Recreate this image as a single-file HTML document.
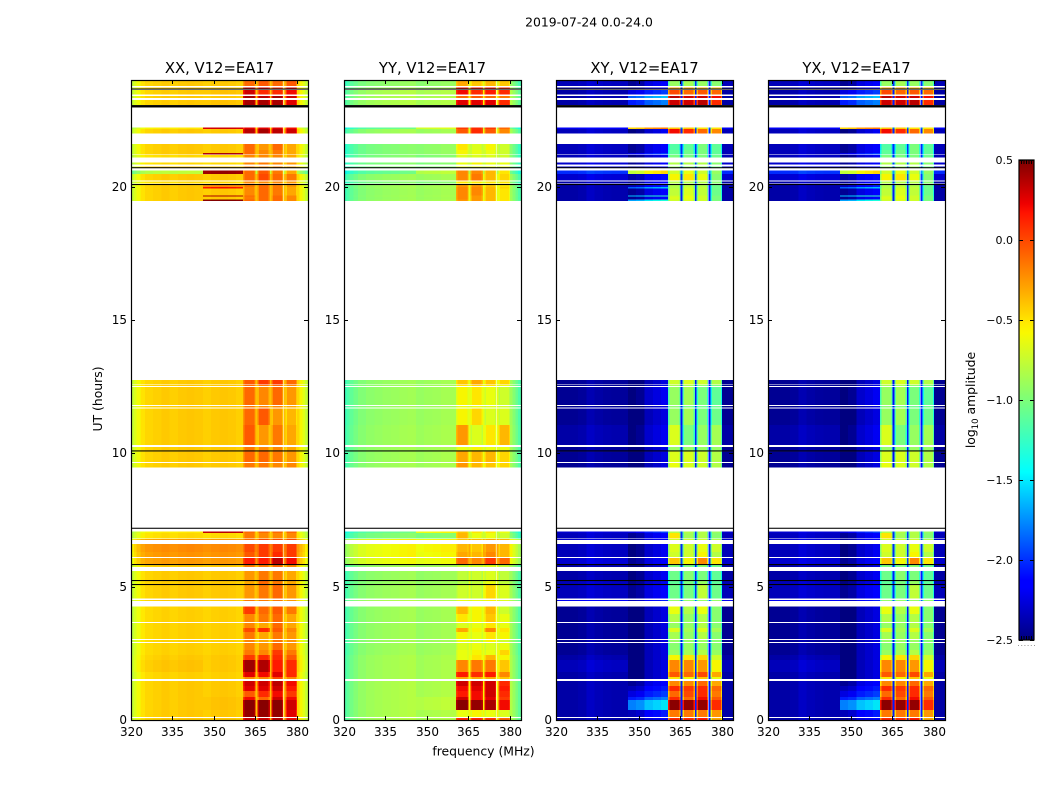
<!DOCTYPE html>
<html lang="en">
<head>
<meta charset="utf-8">
<title>2019-07-24 0.0-24.0</title>
<style>
html,body{margin:0;padding:0;background:#fff;}
svg{display:block;font-family:"DejaVu Sans","Liberation Sans",sans-serif;fill:#000;}
</style>
</head>
<body>
<svg id="figure" xmlns="http://www.w3.org/2000/svg" width="1050" height="800" viewBox="0 0 1050 800">
  <defs>
    <linearGradient id="jet-gradient" x1="0" y1="1" x2="0" y2="0">
      <stop offset="0" stop-color="#00007f"/>
      <stop offset="0.11" stop-color="#0000ff"/>
      <stop offset="0.125" stop-color="#0000ff"/>
      <stop offset="0.35" stop-color="#00ffff"/>
      <stop offset="0.5" stop-color="#7cff79"/>
      <stop offset="0.64" stop-color="#f9f900"/>
      <stop offset="0.66" stop-color="#ffea00"/>
      <stop offset="0.89" stop-color="#ff1300"/>
      <stop offset="0.91" stop-color="#ee0000"/>
      <stop offset="1" stop-color="#7f0000"/>
    </linearGradient>
  </defs>
  <text x="589" y="26.5" font-size="12.4" text-anchor="middle">2019-07-24 0.0-24.0</text>
  <text x="483.5" y="755.5" font-size="12.4" text-anchor="middle">frequency (MHz)</text>
  <text transform="translate(102,399) rotate(-90)" font-size="12.4" text-anchor="middle">UT (hours)</text>
  <text transform="translate(975,400) rotate(-90)" font-size="12.4" text-anchor="middle">log<tspan font-size="8.5" dy="3">10</tspan><tspan dy="-3"> amplitude</tspan></text>
  <g id="panels"></g>
  <g id="colorbar"></g>
</svg>
<script>
/* ---------- chart data ---------- */
const panelNames = ['XX, V12=EA17', 'YY, V12=EA17', 'XY, V12=EA17', 'YX, V12=EA17'];
const xTicks = [320, 335, 350, 365, 380];
const yTicks = [0, 5, 10, 15, 20];
const colorTicks = [-2.5, -2.0, -1.5, -1.0, -0.5, 0.0, 0.5];

/* frequency channel edges in MHz */
const channelEdges = [320,321,322,323.5,325,328,331,334,337,340,343,346,349,352,355,358,360.5,361,364.6,365.07,365.8,366.3,369.7,370.2,370.85,371.35,374.55,375.05,375.9,376.4,379.6,380.1,381,382,383,384];
/* which level column each channel reads: 0 continuum, 1 upper continuum, 2-5 spectral windows */
const channelGroup = [0,0,0,0,0,0,0,0,0,0,0,1,1,1,1,1,2,2,2,0,3,3,3,0,4,4,4,0,5,5,5,0,0,0,0];
const xxChannelOffset = [-.23,-.15,-.07,.01,.05,.07,.09,.07,.09,.1,.09,.07,.09,.1,.09,.07,-.15,0,-.15,.12,-.15,0,-.15,.12,-.15,0,-.15,.12,-.15,0,-.15,.05,-.05,-.13,-.23];
const yyChannelOffset = [-.3,-.25,-.18,-.12,-.06,-.02,0,.02,.03,.05,.06,0,.02,.03,.05,.05,-.1,0,-.1,.3,-.1,0,-.1,.3,-.1,0,-.1,.3,-.1,0,-.1,.05,-.05,-.15,-.25];
const xyChannelOffset = [0,0,0,0,0,.02,.08,.05,.03,.02,.02,-.25,-.2,-.05,0,.05,-.3,0,-.3,.35,-.3,0,-.3,.35,-.3,0,-.3,.35,-.3,0,-.3,0,0,0,0];

/* scan start / end in UT hours */
const scanStart = [0,.11,.38,.75,.86,1.09,1.28,1.54,1.61,1.8,2.25,2.44,2.63,2.93,3.04,3.3,3.45,3.68,3.98,4.46,4.56,5.1,5.25,5.74,5.85,6.11,6.3,6.75,6.81,7.01,
  9.46,9.68,10.11,10.31,11.06,11.72,11.81,12.53,12.58,
  19.46,19.52,19.63,19.67,19.93,19.99,20.11,20.23,20.48,20.72,20.84,21.09,21.21,21.26,21.38,22,22.16,23.06,23.33,23.46,23.68,23.78];
const scanEnd = [.08,.38,.75,.86,1.09,1.28,1.46,1.61,1.8,2.25,2.44,2.63,2.89,3,3.3,3.45,3.64,3.98,4.26,4.5,5.06,5.21,5.59,5.81,6.08,6.3,6.6,6.79,7.01,7.06,
  9.64,10.07,10.24,11.06,11.68,11.78,12.49,12.56,12.75,
  19.52,19.63,19.67,19.93,19.99,20.06,20.19,20.48,20.6,20.75,20.91,21.19,21.26,21.38,21.6,22.16,22.22,23.25,23.4,23.63,23.72,24];

/* black flagged lines, UT hours */
const flagStart = [5.06,5.21,5.81,7.17,10.07,20.06,20.69,22.97,23.64];
const flagEnd = [5.1,5.25,5.85,7.21,10.11,20.1,20.73,23.06,23.68];

/* log10 amplitude per scan: continuum, upper continuum, window 1, 2, 3, 4 */
const xxLevels = [
[-.5,-.5,.3,.3,.35,.2],[-.5,-.5,.45,.45,.45,.25],[-.5,-.48,.48,.48,.48,.3],[-.5,-.48,.2,-.1,.3,.2],[-.5,-.5,-.05,.1,.2,.05],
[-.5,-.5,.25,.25,.3,.15],[-.5,-.5,.3,.3,.35,.2],[-.52,-.52,-.2,-.2,0,-.2],[-.52,-.52,.25,.2,.25,.1],[-.48,-.5,.42,.38,.15,.1],
[-.5,-.5,.05,.1,.1,-.05],[-.52,-.52,-.15,-.2,.05,-.15],[-.52,-.52,-.2,-.25,-.1,-.25],[-.52,-.52,-.2,-.3,-.15,-.25],[-.52,-.52,-.15,-.3,-.15,-.25],
[-.52,-.52,0,.1,-.05,-.2],[-.52,-.52,-.2,-.3,-.1,-.3],[-.52,-.52,-.2,-.15,-.1,-.3],[-.52,-.52,.05,-.1,-.05,-.15],[-.5,-.5,-.15,-.15,-.15,-.25],
[-.5,-.5,-.25,-.15,-.1,-.25],[-.5,-.5,-.3,-.1,-.15,-.3],[-.5,-.5,-.25,-.15,-.15,-.3],[-.5,-.5,-.15,-.15,-.1,-.2],[-.35,-.35,.15,.15,.35,.2],
[-.33,-.33,-.05,.05,.1,.05],[-.3,-.3,0,.05,.05,.05],[-.35,-.35,-.1,0,0,0],[-.55,-.55,-.15,-.2,-.2,-.2],[-.6,.25,-.1,-.1,-.1,-.1],
[-.5,-.5,-.15,-.15,-.2,-.2],[-.5,-.5,-.1,-.1,-.15,-.25],[-.5,-.5,-.15,-.2,-.2,-.3],[-.5,-.5,-.05,-.25,-.15,-.3],[-.5,-.5,-.1,-.05,-.25,-.35],
[-.5,-.5,-.15,-.2,-.2,-.3],[-.5,-.5,-.1,-.2,-.1,-.25],[-.5,-.5,-.1,-.15,-.1,-.2],[-.5,-.5,-.05,.05,.05,-.1],
[-.5,.4,-.1,-.1,-.1,-.2],[-.5,-.5,-.15,-.1,-.1,-.2],[-.5,.3,-.1,-.1,-.1,-.2],[-.5,-.5,-.2,-.1,-.15,-.3],[-.5,.1,-.2,-.1,-.15,-.3],
[-.5,-.3,-.15,-.1,-.15,-.25],[-.55,-.55,-.2,-.2,-.2,-.25],[-.5,-.5,-.1,0,-.1,-.15],[-.85,.35,-.1,-.05,-.15,-.3],[-.5,-.5,-.2,-.2,-.2,-.3],
[-.55,-.55,-.2,-.15,-.2,-.25],[-.55,-.55,-.2,-.2,-.2,-.3],[-.5,.3,-.1,-.2,-.15,-.3],[-.5,-.5,-.1,-.2,-.15,-.3],[-.5,-.5,-.1,-.25,-.1,-.3],[-.5,-.5,.35,.4,.35,.3],
[-.6,.2,.25,.25,.25,.2],[-.5,-.48,.4,.4,.4,.25],[-.5,-.5,.4,.35,.4,.3],[-.5,-.48,.3,.1,.1,.2],[-.5,-.5,.3,.25,.1,.25],[-.5,-.5,-.1,-.05,-.1,-.05]
];
const yyLevels = [
[-.85,-.85,.1,.1,.05,-.1],[-.85,-.85,-.6,-.55,-.6,-.65],[-.85,-.8,.48,.45,.4,.2],[-.85,-.8,.3,.2,.25,.05],[-.85,-.85,.15,.2,.3,.1],
[-.85,-.85,.2,.25,.3,.15],[-.85,-.85,.3,.3,.3,.1],[-.87,-.87,-.3,-.3,-.3,-.4],[-.87,-.87,.15,.1,.15,-.2],[-.87,-.87,-.2,-.15,-.15,-.4],
[-.87,-.87,-.6,-.5,-.35,-.55],[-.9,-.9,-.6,-.55,-.6,-.45],[-.9,-.9,-.65,-.6,-.65,-.6],[-.9,-.9,-.6,-.7,-.55,-.7],[-.9,-.9,-.55,-.6,-.5,-.55],
[-.9,-.9,-.3,-.55,-.2,-.5],[-.9,-.9,-.65,-.6,-.5,-.6],[-.9,-.9,-.5,-.55,-.4,-.6],[-.9,-.9,-.35,-.55,-.35,-.7],[-.85,-.85,-.6,-.6,-.55,-.65],
[-.9,-.9,-.7,-.7,-.45,-.65],[-.92,-.92,-.8,-.75,-.6,-.75],[-.92,-.92,-.75,-.7,-.65,-.75],[-.9,-.9,-.75,-.7,-.65,-.75],[-.62,-.62,-.1,-.2,.05,-.1],
[-.6,-.6,-.3,-.35,-.2,-.35],[-.6,-.58,-.35,-.4,-.25,-.35],[-.6,-.6,-.4,-.35,-.3,-.35],[-1,-1,-.35,-.6,-.6,-.7],[-1.1,-.6,-.4,-.5,-.5,-.6],
[-.9,-.88,-.25,-.35,-.4,-.45],[-.9,-.88,-.3,-.35,-.35,-.45],[-.9,-.88,-.6,-.55,-.6,-.6],[-.9,-.88,-.25,-.65,-.5,-.35],[-.92,-.9,-.55,-.45,-.65,-.65],
[-.92,-.9,-.6,-.6,-.65,-.7],[-.92,-.9,-.55,-.5,-.6,-.7],[-.92,-.9,-.5,-.45,-.5,-.6],[-.92,-.9,-.4,-.3,-.4,-.45],
[-.9,-.88,-.25,-.25,-.35,-.5],[-.92,-.9,-.2,-.25,-.35,-.5],[-.9,-.88,-.2,-.25,-.35,-.5],[-.92,-.9,-.2,-.2,-.35,-.5],[-.9,-.88,-.2,-.2,-.35,-.45],
[-.9,-.88,-.25,-.25,-.4,-.5],[-1,-1,-.5,-.5,-.5,-.5],[-.92,-.9,-.2,-.15,-.35,-.45],[-1.1,-.8,-.2,-.2,-.35,-.5],[-1,-1,-.6,-.6,-.6,-.6],
[-1,-1,-.6,-.55,-.6,-.6],[-1,-1,-.65,-.65,-.65,-.7],[-1,-.95,-.55,-.6,-.6,-.7],[-1,-.95,-.55,-.6,-.6,-.7],[-1,-.95,-.5,-.65,-.55,-.7],[-.9,-.9,-.05,.1,-.05,-.2],
[-1.1,-.7,.05,.1,.05,-.1],[-.85,-.85,.25,.25,.25,.1],[-.85,-.85,-.1,-.05,-.1,-.15],[-.85,-.85,.2,.1,.15,.1],[-.9,-.9,.2,.15,.15,.1],[-.95,-.95,-.3,-.4,-.35,-.4]
];
const xyLevels = [
[-2.4,-2.2,.1,.1,.15,-.3],[-2.4,-2.1,-.15,-.15,-.15,-.25],[-2.4,-1.5,.47,.45,.45,.1],[-2.4,-1.8,.1,-.1,.2,-.05],[-2.4,-2,-.1,0,.1,-.15],
[-2.4,-2.1,.1,.05,.1,-.1],[-2.4,-2.2,-.2,-.2,-.1,-.3],[-2.4,-2.3,-.5,-.55,-.4,-.6],[-2.4,-2.3,-.05,-.1,0,-.3],[-2.35,-2.3,-.2,-.2,-.25,-.55],
[-2.4,-2.3,-.55,-.5,-.45,-.7],[-2.45,-2.3,-.9,-.85,-.8,-.9],[-2.45,-2.3,-.95,-.9,-.9,-.95],[-2.45,-2.3,-.9,-.9,-.9,-.95],[-2.45,-2.3,-.85,-.9,-.8,-.95],
[-2.45,-2.3,-.65,-.85,-.65,-.85],[-2.45,-2.3,-.9,-.9,-.8,-.95],[-2.45,-2.3,-.8,-.9,-.8,-.95],[-2.45,-2.3,-.6,-.8,-.6,-.95],[-2.2,-2.1,-.9,-.9,-.9,-.9],
[-2.35,-2.2,-1.05,-1,-.75,-1.05],[-2.35,-2.25,-1.1,-1,-.9,-1.1],[-2.4,-2.25,-1.05,-.95,-1,-1.1],[-2.4,-2.3,-1,-1,-.95,-1.05],[-2.3,-2.2,-.4,-.55,-.2,-.5],
[-2.35,-2.25,-.7,-.7,-.55,-.8],[-2.35,-2.25,-.65,-.7,-.6,-.7],[-2.3,-2.2,-.7,-.7,-.7,-.8],[-2.35,-2.2,-.5,-.85,-.8,-.95],[-2.3,-2,-.8,-.8,-.8,-.9],
[-2.45,-2.3,-.6,-.65,-.7,-.8],[-2.45,-2.3,-.65,-.65,-.7,-.8],[-2.45,-2.3,-.9,-.9,-.9,-.9],[-2.4,-2.25,-.65,-1,-.9,-.85],[-2.45,-2.3,-.9,-.85,-1,-1.05],
[-2.45,-2.3,-.95,-1,-1.05,-1.05],[-2.45,-2.25,-.9,-.85,-1,-1.1],[-2.45,-2.3,-.85,-.85,-.95,-1],[-2.45,-2.3,-.7,-.65,-.7,-.8],
[-2.4,-1.4,-.7,-.65,-.7,-1],[-2.4,-2.2,-.65,-.6,-.7,-1],[-2.4,-1.3,-.7,-.6,-.7,-1],[-2.4,-2.2,-.75,-.65,-.75,-1.05],[-2.4,-1.6,-.8,-.7,-.75,-1.05],
[-2.4,-2.1,-.8,-.75,-.8,-1.05],[-2.4,-2.2,-.8,-.8,-.8,-.95],[-2.3,-2.15,-.55,-.5,-.6,-.95],[-2,-.5,-.7,-.6,-.7,-.9],[-2.3,-2.2,-.9,-.9,-.9,-1],
[-2.3,-2.2,-.8,-.8,-.8,-.95],[-2.35,-2.25,-1,-1,-1,-1.05],[-2.35,-2,-1.1,-1.05,-1,-1.1],[-2.35,-2.2,-1.1,-1.05,-1,-1.1],[-2.35,-2.2,-1.15,-1.1,-1,-1.1],[-2.35,-2.25,.2,.1,-.1,-.2],
[-2.2,-.2,-.4,-.4,-.5,-.5],[-2.4,-1.8,.3,.3,.35,.1],[-2.4,-1.6,.35,.3,.3,.2],[-2.4,-2,0,-.1,-.05,-.1],[-2.4,-2.2,-.3,-.3,-.35,-.4],[-2.35,-2.2,-.9,-.85,-.9,-.95]
];
const yxLevels = xyLevels.map(function (row) { return row.slice(); });

/* ---------- layout and scales ---------- */
const SVG_NS = 'http://www.w3.org/2000/svg';
const panelLeft = [131, 344, 556, 768];
const panelWidth = 177;
const plotTop = 80, plotBottom = 720;
const freqMin = 320, freqMax = 384;
const utMin = 0, utMax = 24;
const colorMin = -2.5, colorMax = 0.5;
const barLeft = 1019, barWidth = 15, barTop = 160, barBottom = 640;

function xScale(panel, mhz) {
  return panelLeft[panel] + (mhz - freqMin) / (freqMax - freqMin) * panelWidth;
}
function yScale(ut) {
  return plotBottom - (ut - utMin) / (utMax - utMin) * (plotBottom - plotTop);
}
function colorScale(v) {
  return barBottom - (v - colorMin) / (colorMax - colorMin) * (barBottom - barTop);
}
function ramp(t, pts) {
  for (let i = 1; i < pts.length; i++) {
    if (t <= pts[i][0]) {
      const a = pts[i - 1], b = pts[i];
      return a[1] + (b[1] - a[1]) * (t - a[0]) / (b[0] - a[0]);
    }
  }
  return pts[pts.length - 1][1];
}
function jet(v) {
  const t = Math.max(0, Math.min(1, (v - colorMin) / (colorMax - colorMin)));
  const r = ramp(t, [[0, 0], [.35, 0], [.66, 1], [.89, 1], [1, .5]]);
  const g = ramp(t, [[0, 0], [.125, 0], [.375, 1], [.64, 1], [.91, 0], [1, 0]]);
  const b = ramp(t, [[0, .5], [.11, 1], [.34, 1], [.65, 0], [1, 0]]);
  return 'rgb(' + Math.round(r * 255) + ',' + Math.round(g * 255) + ',' + Math.round(b * 255) + ')';
}
function make(tag, attrs, parent) {
  const el = document.createElementNS(SVG_NS, tag);
  for (const k in attrs) el.setAttribute(k, attrs[k]);
  parent.appendChild(el);
  return el;
}
function fmt(v, digits) {
  return (v < 0 ? '\u2212' : '') + Math.abs(v).toFixed(digits);
}

/* ---------- panels ---------- */
const panelLevels = [xxLevels, yyLevels, xyLevels, yxLevels];
const panelOffsets = [xxChannelOffset, yyChannelOffset, xyChannelOffset, xyChannelOffset];
const panelsRoot = document.getElementById('panels');

panelNames.forEach(function (name, p) {
  const g = make('g', {}, panelsRoot);
  
  

  const cells = make('g', { 'shape-rendering': 'crispEdges' }, g);
  
  
  const levels = panelLevels[p], offsets = panelOffsets[p];
  scanStart.forEach(function (start, r) {
    const y0 = yScale(scanEnd[r]), y1 = yScale(start);
    for (let c = 0; c < channelGroup.length; c++) {
      const x0 = xScale(p, channelEdges[c]), x1 = xScale(p, channelEdges[c + 1]);
      const value = levels[r][channelGroup[c]] + offsets[c];
      const cell = make('rect', { x: x0.toFixed(2), y: y0.toFixed(2), width: (x1 - x0).toFixed(2), height: (y1 - y0).toFixed(2), fill: jet(value) }, cells);
      
      
    }
  });

  flagStart.forEach(function (start, i) {
    const y0 = yScale(flagEnd[i]), y1 = yScale(start);
    const line = make('rect', { x: panelLeft[p], y: y0.toFixed(2), width: panelWidth, height: (y1 - y0).toFixed(2), fill: '#000' }, g);
    
    
  });

  const frame = make('rect', { x: panelLeft[p] + .5, y: plotTop + .5, width: panelWidth, height: plotBottom - plotTop, fill: 'none', stroke: '#000', 'stroke-width': 1.2 }, g);
  
  

  xTicks.forEach(function (tick) {
    const x = Math.round(xScale(p, tick)) + .5;
    [[plotBottom, plotBottom - 4], [plotTop, plotTop + 4]].forEach(function (e) {
      const mark = make('line', { x1: x, x2: x, y1: e[0], y2: e[1], stroke: '#000', 'stroke-width': 1 }, g);
      
      
    });
    const label = make('text', { x: x, y: 736, 'font-size': 12, 'text-anchor': 'middle' }, g);
    label.textContent = String(tick);
    
    
  });

  yTicks.forEach(function (tick) {
    const y = Math.round(yScale(tick)) + .5;
    const left = panelLeft[p], right = left + panelWidth;
    [[left, left + 4], [right, right - 4]].forEach(function (e) {
      const mark = make('line', { x1: e[0], x2: e[1], y1: y, y2: y, stroke: '#000', 'stroke-width': 1 }, g);
      
      
    });
    const label = make('text', { x: left - 4, y: y + 3.5, 'font-size': 12, 'text-anchor': 'end' }, g);
    label.textContent = String(tick);
    
    
  });

  const title = make('text', { x: panelLeft[p] + panelWidth / 2, y: 73, 'font-size': 14.8, 'text-anchor': 'middle' }, g);
  title.textContent = name;
  
  
});

/* ---------- colorbar ---------- */
const barRoot = document.getElementById('colorbar');
const barFill = make('rect', { x: barLeft, y: barTop, width: barWidth, height: barBottom - barTop, fill: 'url(#jet-gradient)', stroke: '#000', 'stroke-width': 1.2 }, barRoot);



colorTicks.forEach(function (tick) {
  const y = Math.round(colorScale(tick)) + .5;
  [[barLeft, barLeft + 4], [barLeft + barWidth, barLeft + barWidth - 4]].forEach(function (e) {
    const mark = make('line', { x1: e[0], x2: e[1], y1: y, y2: y, stroke: '#000', 'stroke-width': 1 }, barRoot);
    
    
  });
  const label = make('text', { x: barLeft - 6, y: y + 3.5, 'font-size': 11, 'text-anchor': 'end' }, barRoot);
  label.textContent = fmt(tick, 1);
  
  
});

for (let i = 1; i < 6; i++) {
  const x = barLeft + i * barWidth / 6;
  [[barTop, barTop + 4], [barBottom, barBottom - 4]].forEach(function (e) {
    const mark = make('line', { x1: x, x2: x, y1: e[0], y2: e[1], stroke: '#000', 'stroke-width': 1 }, barRoot);
    
    
  });
}
for (let i = 0; i < 6; i++) {
  const dot = make('rect', { x: barLeft - 1 + i * 3.2, y: 645, width: 1, height: 1, fill: '#999' }, barRoot);
  
  
}
</script>
</body>
</html>
